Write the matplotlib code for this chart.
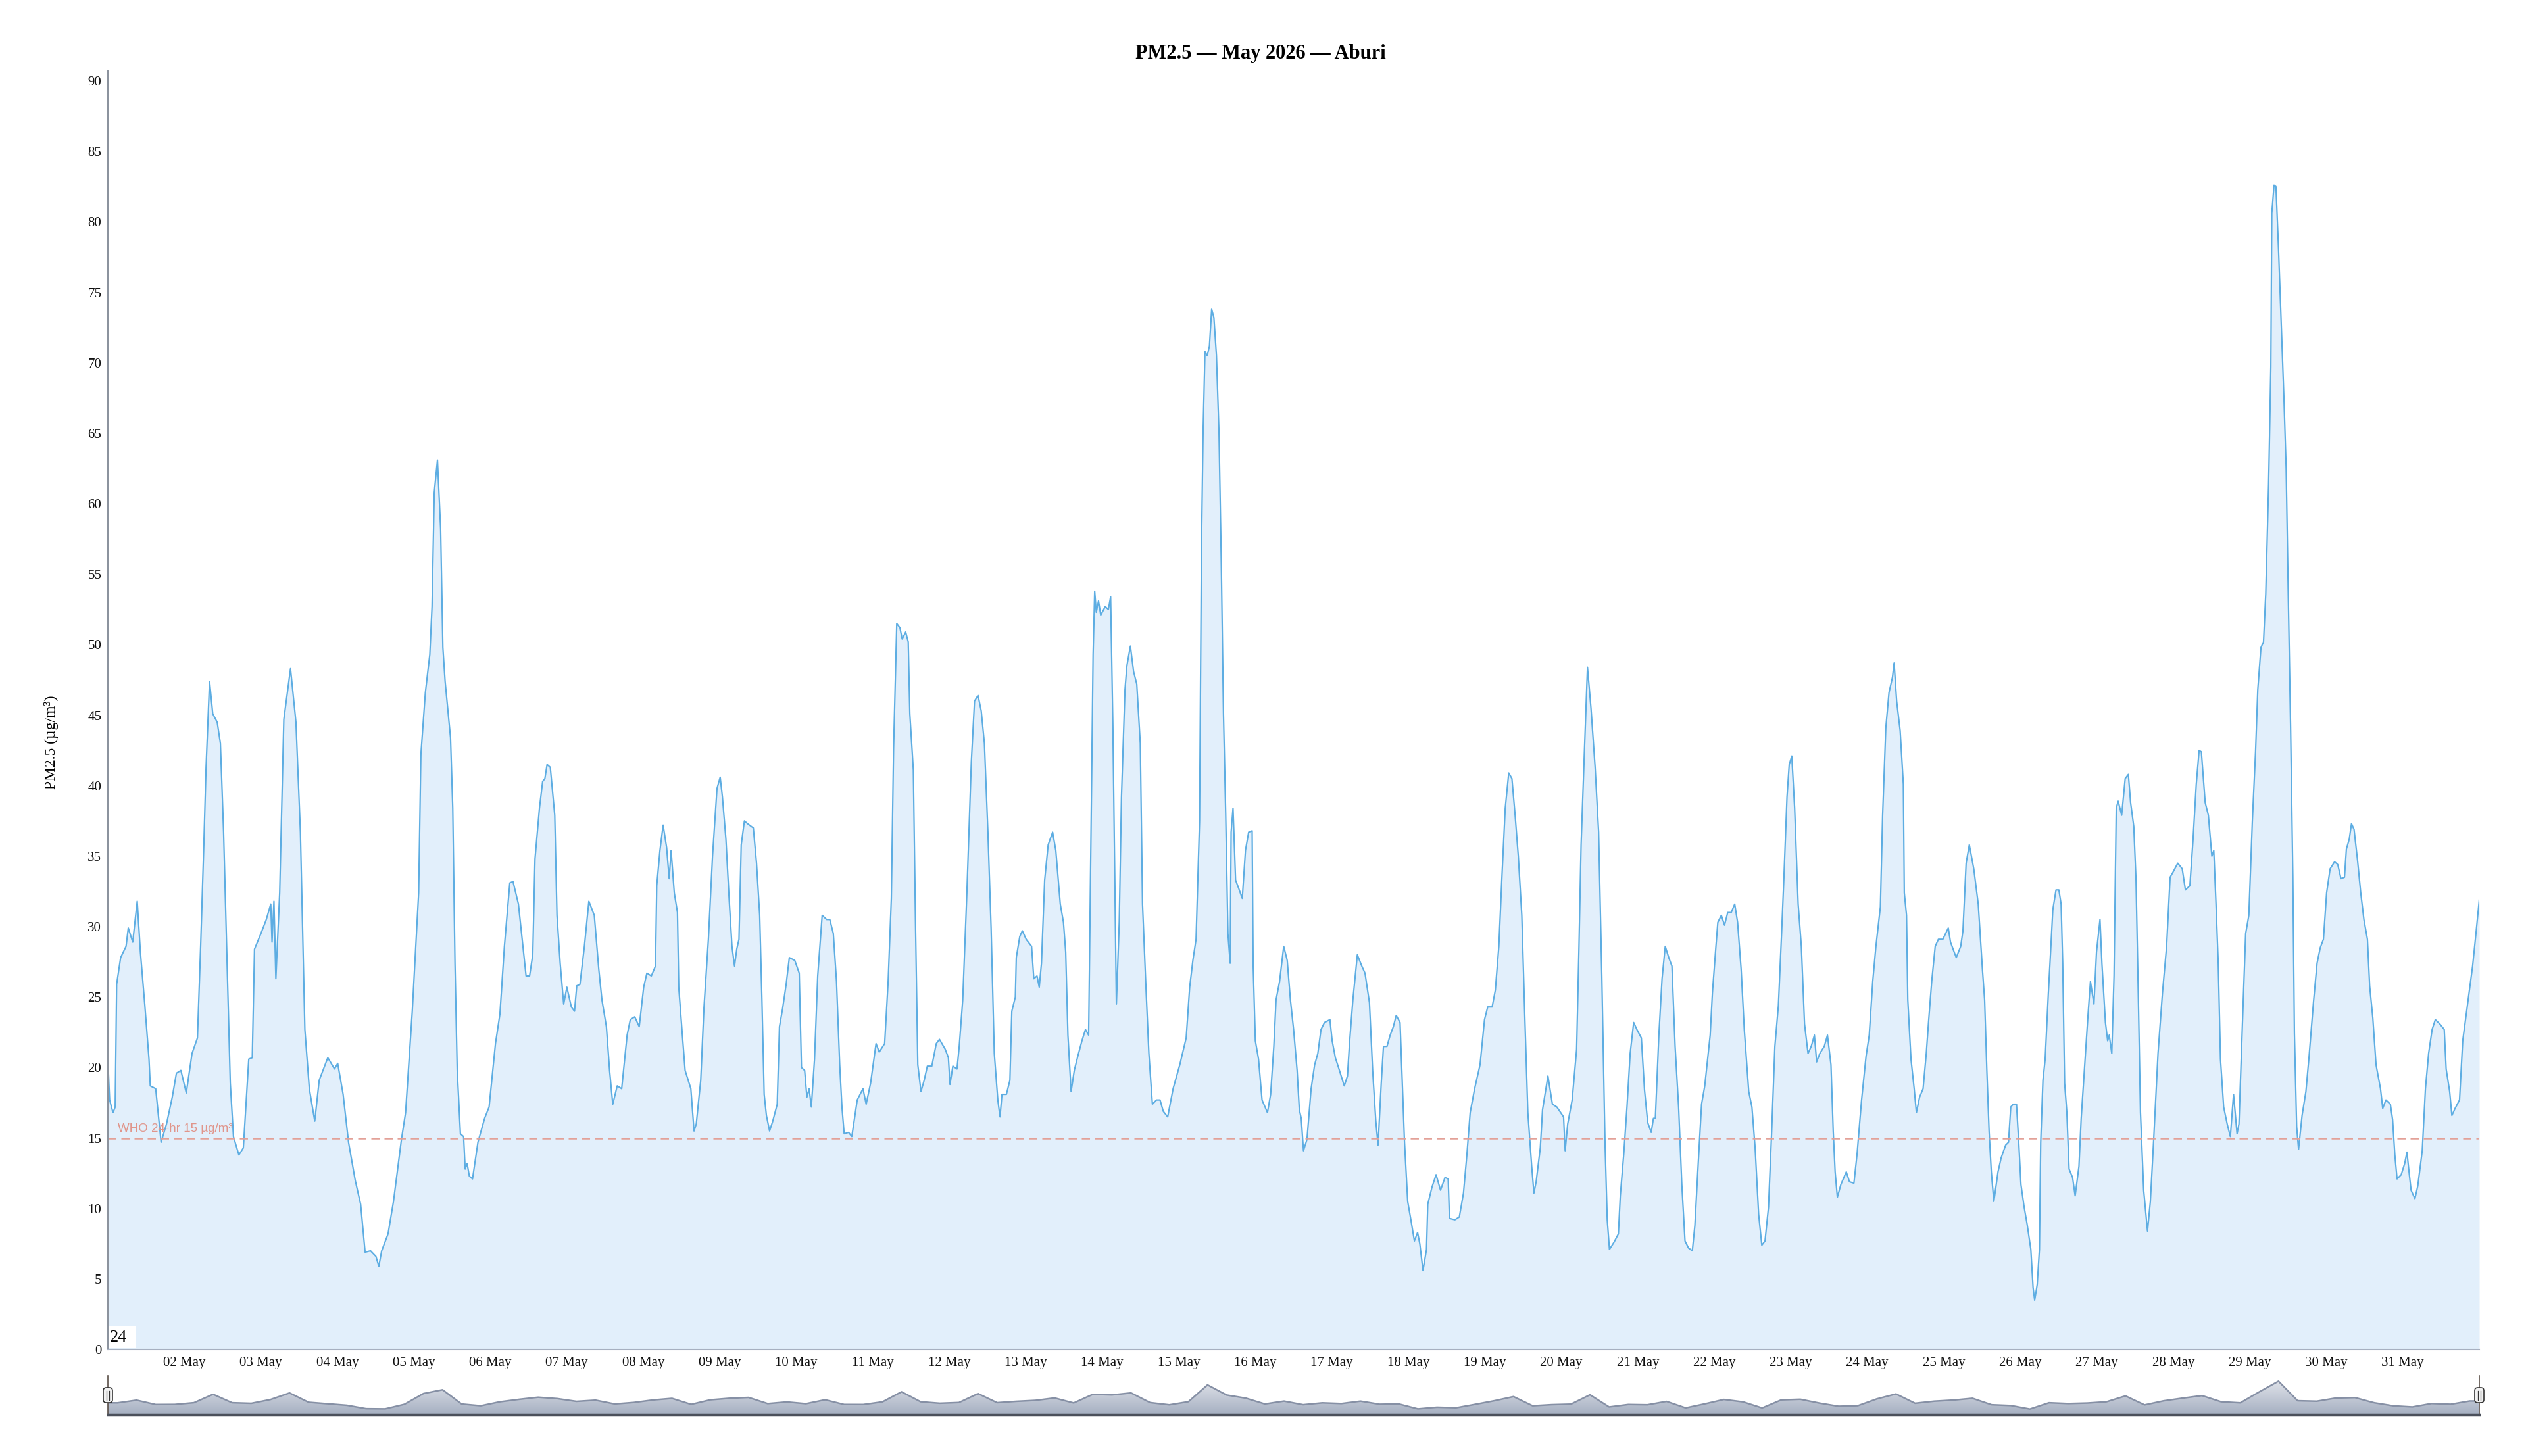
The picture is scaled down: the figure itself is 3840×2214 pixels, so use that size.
import numpy as np
import pandas as pd
import matplotlib
matplotlib.use('Agg')
import matplotlib.pyplot as plt
import matplotlib.dates as mdates
from matplotlib.patches import FancyBboxPatch, Rectangle
from matplotlib.lines import Line2D
from matplotlib.colors import LinearSegmentedColormap

# PM2.5 readings, hours after 01 May 2026 00:00
hours = [
    0, 0.55, 1.6, 2.3, 2.75, 4.0, 5.7, 6.4, 7.8, 9.2, 10.2, 11.6, 12.9, 13.3, 15.0, 16.7, 18.4, 20.2,
    21.5, 22.9, 24.6, 26.4, 28.1, 29.1, 30.1, 30.8, 31.9, 32.9, 34.3, 35.3, 36.3, 37.4, 38.4, 39.4,
    41.1, 42.5, 44.2, 45.3, 46.0, 48.0, 49.7, 51.1, 51.5, 52.1, 52.7, 53.9, 55.2, 56.3, 57.3, 59.0,
    60.4, 61.8, 63.2, 64.9, 66.3, 69.0, 71.1, 72.1, 73.8, 75.5, 77.6, 79.3, 80.7, 82.4, 84.1, 85.0,
    85.9, 87.9, 89.6, 92.1, 93.4,
    95.5, 97.5, 98.2, 99.6, 101.0, 101.7, 102.4, 103.4, 104.4, 105.1, 105.8, 107.5, 108.2, 108.9,
    109.6, 110.6, 111.6, 112.1, 112.7, 113.4, 114.4, 116.1, 118.2, 119.6, 121.6, 123.0, 124.4, 126.1,
    127.1, 128.8, 130.2, 131.2, 132.3, 133.3, 134.0, 135.4, 136.4, 137.1, 137.8, 138.8, 140.2, 140.9,
    141.9, 143.0, 144.0, 145.4, 146.4, 147.1, 148.1, 149.5, 150.9, 152.6, 154.0, 155.0, 156.4, 157.4,
    158.4, 159.8, 161.2, 162.9, 163.9, 165.3, 166.7, 168.1, 169.1, 170.5, 171.8, 172.2, 173.2, 174.2,
    175.3, 176.1, 176.7, 177.7, 178.7, 179.1, 180.1, 181.1, 182.9, 183.9, 184.6, 186.0, 187.0, 188.4,
    189.7,
    191.1, 192.1, 192.8, 193.9, 194.9, 195.8, 196.6, 197.3, 198.0, 198.7, 199.7, 200.7, 202.5, 203.5,
    204.5, 205.2, 205.9, 206.6, 207.6, 208.6, 210.0, 210.7, 211.7, 212.8, 213.8, 215.5, 216.9, 217.6,
    218.6, 219.3, 220.0, 220.7, 221.7, 222.7, 224.1, 225.5, 226.5, 227.6, 228.6, 229.6, 230.3, 231.0,
    232.4, 233.4, 235.1, 236.9, 237.9, 239.3, 241.0, 242.0, 243.7, 244.8, 245.8, 246.5, 247.5, 248.5,
    249.2, 250.3, 251.1, 251.6, 252.7, 253.4, 254.1, 255.1, 256.1, 257.1, 258.5, 259.9, 260.9, 262.7,
    263.7, 264.2, 265.1, 266.4, 267.1, 268.2, 269.5, 270.9, 271.9, 273.0, 274.0, 275.0, 276.1, 277.1,
    278.1, 279.2, 279.9, 280.5, 281.9, 283.0, 283.6, 284.7, 285.0, 286.1, 286.9,
    288.1, 289.8, 290.5, 291.5, 292.2, 292.9, 293.9, 295.0, 296.4, 297.4, 298.8, 299.8, 300.5, 301.2,
    302.2, 303.2, 304.3, 305.6, 306.7, 307.7, 308.4, 309.1, 309.6, 310.1, 310.8, 311.5, 312.9, 313.9,
    314.6, 315.3, 316.0, 316.4, 317.3, 318.0, 319.1, 319.7, 320.8, 321.8, 322.8, 323.9, 324.6, 325.6,
    326.6, 327.7, 329.0, 330.1, 331.1, 332.5, 334.2, 336.3, 338.3, 339.4, 340.4, 341.4, 342.5, 343.1,
    343.6, 344.2, 344.9, 345.6, 346.3, 347.0, 347.8, 348.6, 349.3, 350.0, 350.7, 351.4, 352.1, 352.4,
    353.0, 353.8, 354.8, 355.9, 356.9, 357.9, 359.0, 359.3, 360.0, 361.0, 362.1, 363.8, 364.8, 365.8,
    366.5, 367.6, 368.9, 370.0, 371.0, 372.0, 373.1, 373.8, 374.4, 375.1, 376.2, 377.5, 378.6, 379.6,
    380.6, 381.7, 383.4, 384.1,
    385.1, 386.1, 387.9, 388.9, 389.6, 390.6, 392.0, 393.4, 394.4, 395.8, 396.8, 397.8, 398.5, 399.5,
    400.2, 401.3, 402.3, 403.3, 404.2, 405.4, 406.1, 406.8, 407.8, 408.8, 409.9, 410.9, 411.6, 412.6,
    413.7, 414.1, 415.4, 416.7, 418.1, 419.5, 420.5, 420.9, 422.6, 424.0, 425.3, 426.4, 427.4, 428.8,
    430.5, 431.9, 432.9, 434.3, 435.3, 436.4, 437.4, 438.4, 439.5, 440.5, 441.5, 442.5, 443.6, 444.6,
    445.5, 446.7, 447.4, 448.1, 449.4, 450.1, 451.8, 453.2, 454.6, 456.7, 457.2, 458.0, 459.4, 460.8,
    461.5, 462.2, 463.2, 464.2, 465.3, 466.6, 467.7, 468.7, 469.7, 470.4, 471.1, 472.5, 473.9, 474.5,
    475.6, 476.6, 477.6, 478.7, 479.7, 481.1,
    482.1, 483.1, 484.2, 484.9, 485.5, 486.6, 487.6, 488.6, 489.7, 490.7, 491.7, 492.8, 493.8, 494.8,
    495.9, 497.1, 497.9, 499.0, 500.0, 501.0, 502.1, 502.7, 503.4, 504.5, 505.1, 506.2, 507.2, 508.2,
    509.3, 510.4, 511.3, 512.4, 513.4, 514.8, 515.8, 516.8, 517.9, 518.9, 519.9, 521.0, 522.0, 523.0,
    524.1, 525.1, 525.8, 526.8, 527.5, 528.3, 529.2, 530.3, 531.3, 532.3, 533.4, 534.4, 535.4, 536.1,
    537.1, 538.5, 539.5, 540.6, 541.3, 541.9, 542.6, 543.7, 545.4, 546.4, 547.8, 548.8, 550.2, 551.6,
    552.6, 553.7, 554.7, 556.1, 556.8, 557.8, 558.8, 559.9, 560.4, 561.2, 562.3, 563.3, 563.6, 564.3,
    564.7, 565.7, 566.7, 567.4, 568.4, 569.5, 570.5, 571.2, 572.2, 573.3, 574.3, 575.7, 577.4, 578.1,
    579.9, 581.3, 582.0, 583.0, 584.0, 585.4, 586.8, 588.1, 588.8, 589.5, 590.2, 590.9, 591.7, 593.0,
    594.0, 595.4, 596.3, 597.0, 597.8, 598.8, 599.5, 600.2, 601.2, 602.2, 603.3, 604.0, 604.5, 605.3,
    606.0, 606.4, 607.1, 607.8, 608.8, 609.5, 610.2, 611.2, 612.1, 612.8, 613.3, 613.9, 614.6, 615.3,
    616.4, 617.2, 618.4, 619.1, 620.1, 621.2, 622.0, 623.1, 623.9, 625.0, 625.6, 626.7, 627.4, 627.9,
    628.7, 629.4, 630.1, 630.7, 631.8, 632.9, 633.9, 634.6, 635.6, 636.3, 637.0, 637.7, 638.7, 639.9,
    640.8, 641.8, 643.2, 644.6, 645.9, 647.0, 648.0, 649.4, 650.8, 651.8, 653.2,
    654.2, 655.2, 656.1, 656.8, 658.0, 659.0, 660.1, 660.7, 661.4, 662.1, 662.8, 663.8, 664.9, 665.9,
    666.9, 668.0, 668.6, 669.7, 670.7, 671.7, 672.8, 673.8, 674.5, 675.5, 676.3, 677.0, 677.9, 678.6,
    678.9, 679.6, 680.2, 681.0, 682.0, 682.7, 683.4, 684.1, 684.8, 685.5, 686.0, 686.7, 687.3, 688.4,
    689.6, 690.6, 692.0, 693.1, 694.1, 695.1, 696.1, 697.2, 698.6, 699.6, 700.6, 701.7, 702.3, 703.2,
    703.9, 704.7, 705.8, 706.8, 707.8, 708.9, 709.6, 710.6, 711.6, 713.0, 713.7, 714.7, 716.1, 716.8,
    717.5, 718.2, 719.5, 720.6, 721.3, 721.9, 722.6, 723.8, 724.7, 726.1, 727.1, 728.1, 729.2, 730.2,
    731.6, 733.0, 733.6, 734.7, 735.4, 736.4, 737.8, 738.8, 739.8, 740.9, 741.9, 742.9, 744.0,
]
pm25 = [
    20.5, 17.7, 16.8, 17.2, 25.9, 27.8, 28.6, 29.9, 28.9, 31.8, 28.2, 24.4, 20.6, 18.7, 18.5, 14.7, 16.0, 17.9,
    19.6, 19.8, 18.2, 21.0, 22.1, 28.6, 35.8, 41.3, 47.4, 45.1, 44.5, 43.0, 36.7, 27.4, 18.9, 15.1,
    13.8, 14.3, 20.6, 20.7, 28.4, 29.5, 30.5, 31.6, 28.9, 31.8, 26.3, 32.4, 44.7, 46.6, 48.3, 44.5,
    36.7, 22.7, 18.5, 16.2, 19.1, 20.7, 19.9, 20.3, 18.1, 14.7, 12.0, 10.3, 6.9, 7.0, 6.6, 5.9,
    7.0, 8.2, 10.5, 14.9, 16.8,
    24.0, 32.4, 42.2, 46.6, 49.3, 52.7, 60.8, 63.1, 58.2, 49.8, 47.4, 43.4, 38.4, 27.4,
    19.8, 15.3, 15.1, 12.8, 13.2, 12.3, 12.1, 14.7, 16.4, 17.2, 21.7, 23.8, 28.6, 33.1,
    33.2, 31.6, 28.6, 26.5, 26.5, 28.0, 34.8, 38.4, 40.3, 40.5, 41.5, 41.3, 37.9, 30.8,
    27.4, 24.5, 25.7, 24.3, 24.0, 25.8, 25.9, 28.6, 31.8, 30.8, 27.0, 24.8, 22.9, 19.8,
    17.4, 18.7, 18.5, 22.3, 23.4, 23.6, 22.9, 25.7, 26.7, 26.5, 27.2, 32.9, 35.4, 37.2,
    35.6, 33.4, 35.4, 32.4, 31.0, 25.7, 22.7, 19.8, 18.5, 15.5, 16.0, 19.1, 24.2, 29.1,
    35.0,
    39.8, 40.6, 39.2, 36.2, 32.0, 28.6, 27.2, 28.4, 29.1, 35.8, 37.5, 37.3, 37.0, 34.5,
    30.8, 24.8, 18.1, 16.6, 15.5, 16.2, 17.4, 22.9, 24.2, 25.9, 27.8, 27.6, 26.7, 20.0,
    19.8, 17.9, 18.5, 17.2, 20.6, 26.5, 30.8, 30.5, 30.5, 29.5, 26.1, 20.2, 17.2, 15.3,
    15.4, 15.1, 17.7, 18.5, 17.4, 18.9, 21.7, 21.1, 21.7, 26.1, 32.0, 42.6, 51.5, 51.2,
    50.4, 50.9, 50.2, 45.1, 41.1, 29.9, 20.2, 18.3, 19.1, 20.1, 20.1, 21.7, 22.0, 21.3,
    20.7, 18.8, 20.1, 19.9, 21.5, 24.8, 32.4, 41.7, 46.0, 46.4, 45.3, 43.0, 36.7, 29.9,
    21.0, 17.7, 16.5, 18.1, 18.1, 19.1, 24.0, 25.0, 27.8, 29.3, 29.7,
    29.1, 28.6, 26.3, 26.5, 25.7, 27.4, 33.3, 35.8, 36.7, 35.4, 31.6, 30.3, 28.2, 22.3,
    18.3, 19.8, 20.8, 21.9, 22.7, 22.3, 35.8, 49.3, 53.8, 52.3, 53.1, 52.1, 52.7, 52.5,
    53.4, 44.3, 31.6, 24.5, 30.3, 39.2, 46.8, 48.5, 49.9, 48.1, 47.2, 43.0, 31.6, 26.1,
    21.0, 17.4, 17.7, 17.7, 16.9, 16.5, 18.5, 20.2, 22.1, 25.7, 27.6, 29.1, 37.5, 57.0,
    65.0, 70.8, 70.5, 71.2, 73.8, 73.2, 70.5, 65.0, 56.0, 45.1, 38.0, 29.5, 27.4, 36.7,
    38.4, 33.3, 32.7, 32.0, 35.4, 36.7, 36.8, 27.4, 21.9, 20.6, 17.7, 16.8, 18.1, 21.5,
    24.8, 26.1, 28.6, 27.6, 24.8, 22.7, 19.8, 17.0, 16.4, 14.1, 14.9, 18.5, 20.2, 21.0,
    22.7, 23.2, 23.4, 21.9,
    20.7, 20.0, 18.7, 19.4, 21.9, 24.8, 28.0, 27.2, 26.7, 24.6, 19.8, 16.2, 14.5, 18.9,
    21.5, 21.5, 22.3, 22.9, 23.7, 23.2, 18.9, 14.7, 10.5, 9.2, 7.7, 8.3, 7.5, 5.6,
    7.1, 10.3, 11.5, 12.4, 11.3, 12.2, 12.1, 9.3, 9.2, 9.4, 11.1, 13.9, 16.8, 18.5,
    20.2, 23.4, 24.3, 24.3, 25.5, 28.6, 33.7, 38.4, 40.9, 40.5, 37.9, 35.0, 30.8, 23.2,
    16.8, 13.0, 11.1, 11.9, 14.3, 17.0, 19.4, 17.4, 17.2, 16.5, 14.1, 16.0, 17.7, 21.3,
    28.2, 35.8, 42.2, 48.4, 45.5, 41.3, 36.7, 26.5, 14.7, 9.2, 7.1, 7.6, 8.2, 10.9,
    13.9, 17.2, 21.0, 23.2, 22.7, 22.1,
    18.4, 16.1, 15.4, 16.4, 16.4, 22.3, 26.3, 28.6, 27.8, 27.2, 21.5, 17.2, 11.7, 7.7,
    7.2, 7.0, 8.8, 13.4, 17.4, 18.7, 21.0, 22.3, 25.3, 28.6, 30.3, 30.8, 30.1, 31.0,
    31.0, 31.6, 30.3, 27.0, 22.7, 18.3, 17.2, 14.3, 9.6, 7.4, 7.7, 10.1, 15.5, 21.5,
    24.4, 29.5, 33.3, 39.2, 41.5, 42.1, 38.4, 31.6, 28.6, 23.1, 21.0, 21.5, 22.3, 20.4,
    21.0, 21.5, 22.3, 20.2, 15.5, 12.6, 10.8, 11.7, 12.6, 11.9, 11.8, 13.9, 17.7, 20.8,
    22.3, 26.1, 28.6, 31.4, 37.9, 44.1, 46.6, 47.7, 48.7, 46.0, 43.9, 40.1, 32.4, 30.8,
    24.8, 20.6, 18.5, 16.8, 17.9, 18.5, 21.0, 23.2, 26.1, 28.6, 29.1, 29.1, 29.9, 28.9,
    27.8, 28.6, 29.7, 34.5, 35.8, 34.1, 31.6, 27.0, 24.8, 19.8, 15.5, 12.6, 10.5, 12.6,
    13.6, 14.5, 14.7, 17.2, 17.4, 17.4, 14.7, 11.7, 10.1, 8.8, 7.1, 4.4, 3.5, 4.6,
    7.1, 14.7, 19.1, 20.6, 25.3, 28.2, 31.2, 32.6, 32.6, 31.6, 27.4, 18.9, 16.8, 12.8,
    12.2, 10.9, 13.0, 16.4, 19.8, 23.6, 26.1, 24.5, 28.2, 30.5, 27.4, 23.2, 21.9, 22.3,
    21.0, 26.5, 38.4, 38.9, 37.9, 40.5, 40.8, 38.8, 37.1, 33.3, 25.3, 16.8, 11.3, 8.4,
    10.5, 14.7, 21.0, 25.3, 28.6, 33.5, 33.9, 34.5, 34.1, 32.6, 32.9,
    36.2, 40.1, 42.5, 42.4, 38.8, 37.9, 35.0, 35.4, 31.6, 27.4, 20.6, 17.2, 16.0, 15.1,
    18.1, 15.3, 16.0, 23.2, 29.5, 30.8, 37.5, 42.4, 46.8, 49.8, 50.2, 53.6, 61.4, 69.7,
    80.6, 82.6, 82.5, 78.1, 71.9, 67.5, 62.5, 53.0, 44.1, 33.6, 22.4, 15.8, 14.2, 16.6,
    18.3, 20.8, 24.7, 27.4, 28.5, 29.1, 32.4, 34.1, 34.6, 34.4, 33.4, 33.5, 35.5, 36.2,
    37.3, 36.9, 34.7, 32.4, 30.5, 29.1, 25.8, 23.5, 20.2, 18.5, 17.1, 17.7, 17.4, 16.3,
    13.8, 12.1, 12.4, 13.2, 14.0, 12.7, 11.3, 10.7, 11.6, 14.1, 18.5, 21.0, 22.7, 23.4,
    23.1, 22.7, 19.9, 18.3, 16.6, 17.1, 17.7, 21.9, 23.6, 25.5, 27.2, 29.4, 31.9,
]
who_limit = 15
who_label = 'WHO 24-hr 15 µg/m³'
title = 'PM2.5 — May 2026 — Aburi'

W, H = 3840, 2214
serif = ['Liberation Serif', 'DejaVu Serif']
plt.rcParams['font.family'] = serif

start = pd.Timestamp('2026-05-01')
end = pd.Timestamp('2026-06-01')
times = start + pd.to_timedelta(hours, unit='h')

fig = plt.figure(figsize=(W / 100, H / 100), dpi=100)
ax = fig.add_axes([164 / W, 162 / H, 3605 / W, 1944 / H])

ax.fill_between(times, pm25, 0, color='#e2effb', lw=0)
ax.plot(times, pm25, color='#5dade2', lw=1.6)
ax.axhline(who_limit, color='#e3a198', lw=1.8, ls=(0, (5, 3)))
ax.text(start + pd.Timedelta(hours=3.1), who_limit + 0.25, who_label, color='#e0958b',
        fontsize=13.5, family=['Liberation Sans', 'DejaVu Sans'], va='bottom', ha='left')

ax.set_xlim(start, end)
ax.set_ylim(0, 90.7)
ax.set_yticks(range(0, 91, 5))
ax.xaxis.set_major_locator(mdates.DayLocator(bymonthday=range(2, 32)))
ax.xaxis.set_major_formatter(mdates.DateFormatter('%d %b'))
ax.tick_params(axis='both', length=0, labelsize=15, colors='#111111')
ax.tick_params(axis='y', pad=7)
ax.tick_params(axis='x', pad=8)
for s in ['top', 'right']:
    ax.spines[s].set_visible(False)
ax.spines['left'].set_color('#8c939e')
ax.spines['left'].set_linewidth(1.5)
ax.spines['bottom'].set_color('#a7b0c0')
ax.spines['bottom'].set_linewidth(1.5)

# "24" box at lower left of the plot
fig.add_artist(Rectangle((166 / W, (H - 2050) / H), 41 / W, 33 / H, transform=fig.transFigure,
                         facecolor='white', edgecolor='none', zorder=5))
fig.text(167 / W, (H - 2034) / H, '24', fontsize=19, va='center', ha='left', zorder=6)

fig.text(0.499, 1 - 81 / H, title, fontsize=22, fontweight='bold', ha='center', va='center')
fig.text(78 / W, 1 - 1129 / H, 'PM2.5 (µg/m³)', fontsize=17, rotation=90, ha='center', va='center')

# navigator: 6-hour averages of the same series
df = pd.DataFrame({'h': hours, 'v': pm25})
grp = df.groupby(np.floor(df['h'] / 6).clip(upper=123))['v'].mean()
nx = np.r_[0, grp.index.values * 6 + 3, 744]
ny = np.r_[grp.values[0], grp.values, grp.values[-1]]
nav_bottom, nav_height = 63, 59
nav = fig.add_axes([164 / W, nav_bottom / H, 3605 / W, nav_height / H])
ymin = -6
ymax = ymin + (ny.max() - ymin) / 0.86
poly = nav.fill_between(nx, ny, ymin, color='none', lw=0)
cmap = LinearSegmentedColormap.from_list('nav', ['#a5afc1', '#dfe2e9'])
grad = np.linspace(0, 1, 256).reshape(-1, 1)
im = nav.imshow(grad, extent=[0, 744, ymin, ny.max()], origin='lower', aspect='auto', cmap=cmap)
im.set_clip_path(poly.get_paths()[0], transform=nav.transData)
nav.plot(nx, ny, color='#8690a5', lw=1.8)
nav.set_xlim(0, 744)
nav.set_ylim(ymin, ymax)
nav.set_xticks([])
nav.set_yticks([])
nav.spines['top'].set_visible(False)
nav.spines['bottom'].set_color('#4b505b')
nav.spines['bottom'].set_linewidth(2.5)
for s in ['left', 'right']:
    nav.spines[s].set_color('#5a4f48')
    nav.spines[s].set_linewidth(1.2)

# navigator handles
hw, hh = 14, 23
cy = nav_bottom + nav_height * 0.5
for px in [164, 3769]:
    fig.add_artist(FancyBboxPatch(((px - hw / 2) / W, (cy - hh / 2) / H), hw / W, hh / H,
                                  boxstyle='round,pad=0,rounding_size=0.0012', mutation_aspect=W / H,
                                  transform=fig.transFigure, facecolor='#f2f2f2',
                                  edgecolor='#333333', lw=1.2, zorder=10))
    for dx in [-2, 2]:
        fig.add_artist(Line2D([(px + dx) / W] * 2, [(cy - 7) / H, (cy + 7) / H],
                              transform=fig.transFigure, color='#333333', lw=0.9, zorder=11))

fig.savefig('out.png', dpi=100, facecolor='white')
